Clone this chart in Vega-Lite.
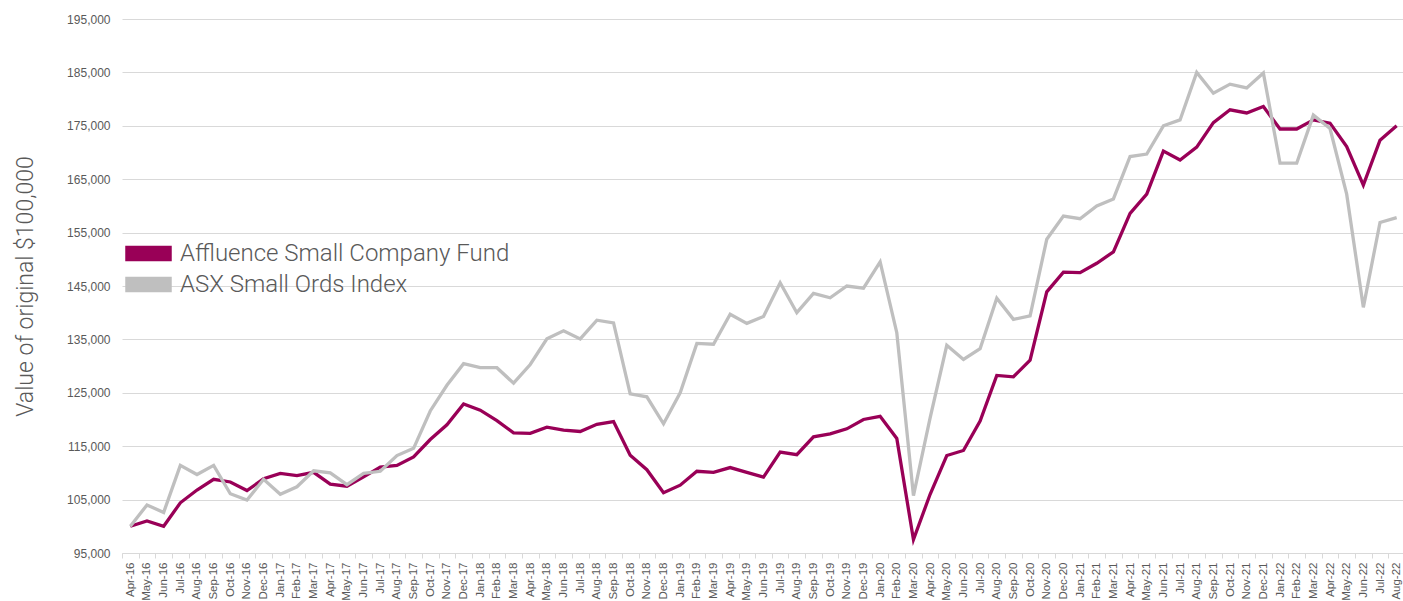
{
  "$schema": "https://vega.github.io/schema/vega-lite/v6.json",
  "width": 1283,
  "height": 534,
  "autosize": {"type": "none"},
  "padding": {"left": 122, "top": 19, "right": 0, "bottom": 48},
  "background": "white",
  "data": {
    "values": [
      {"month": "Apr-16", "Affluence Small Company Fund": 100000, "ASX Small Ords Index": 100000},
      {"month": "May-16", "Affluence Small Company Fund": 101000, "ASX Small Ords Index": 104000},
      {"month": "Jun-16", "Affluence Small Company Fund": 100000, "ASX Small Ords Index": 102600},
      {"month": "Jul-16", "Affluence Small Company Fund": 104400, "ASX Small Ords Index": 111400},
      {"month": "Aug-16", "Affluence Small Company Fund": 106800, "ASX Small Ords Index": 109700},
      {"month": "Sep-16", "Affluence Small Company Fund": 108800, "ASX Small Ords Index": 111400},
      {"month": "Oct-16", "Affluence Small Company Fund": 108300, "ASX Small Ords Index": 106100},
      {"month": "Nov-16", "Affluence Small Company Fund": 106700, "ASX Small Ords Index": 104900},
      {"month": "Dec-16", "Affluence Small Company Fund": 108900, "ASX Small Ords Index": 108800},
      {"month": "Jan-17", "Affluence Small Company Fund": 109900, "ASX Small Ords Index": 106000},
      {"month": "Feb-17", "Affluence Small Company Fund": 109500, "ASX Small Ords Index": 107400},
      {"month": "Mar-17", "Affluence Small Company Fund": 110100, "ASX Small Ords Index": 110400},
      {"month": "Apr-17", "Affluence Small Company Fund": 107900, "ASX Small Ords Index": 110000},
      {"month": "May-17", "Affluence Small Company Fund": 107500, "ASX Small Ords Index": 107800},
      {"month": "Jun-17", "Affluence Small Company Fund": 109250, "ASX Small Ords Index": 109900},
      {"month": "Jul-17", "Affluence Small Company Fund": 111100, "ASX Small Ords Index": 110300},
      {"month": "Aug-17", "Affluence Small Company Fund": 111400, "ASX Small Ords Index": 113250},
      {"month": "Sep-17", "Affluence Small Company Fund": 113000, "ASX Small Ords Index": 114600},
      {"month": "Oct-17", "Affluence Small Company Fund": 116250, "ASX Small Ords Index": 121600},
      {"month": "Nov-17", "Affluence Small Company Fund": 119000, "ASX Small Ords Index": 126400},
      {"month": "Dec-17", "Affluence Small Company Fund": 122900, "ASX Small Ords Index": 130450},
      {"month": "Jan-18", "Affluence Small Company Fund": 121750, "ASX Small Ords Index": 129700},
      {"month": "Feb-18", "Affluence Small Company Fund": 119800, "ASX Small Ords Index": 129700},
      {"month": "Mar-18", "Affluence Small Company Fund": 117500, "ASX Small Ords Index": 126800},
      {"month": "Apr-18", "Affluence Small Company Fund": 117400, "ASX Small Ords Index": 130300},
      {"month": "May-18", "Affluence Small Company Fund": 118550, "ASX Small Ords Index": 135100},
      {"month": "Jun-18", "Affluence Small Company Fund": 118000, "ASX Small Ords Index": 136600},
      {"month": "Jul-18", "Affluence Small Company Fund": 117750, "ASX Small Ords Index": 135100},
      {"month": "Aug-18", "Affluence Small Company Fund": 119100, "ASX Small Ords Index": 138600},
      {"month": "Sep-18", "Affluence Small Company Fund": 119600, "ASX Small Ords Index": 138100},
      {"month": "Oct-18", "Affluence Small Company Fund": 113300, "ASX Small Ords Index": 124800},
      {"month": "Nov-18", "Affluence Small Company Fund": 110600, "ASX Small Ords Index": 124250},
      {"month": "Dec-18", "Affluence Small Company Fund": 106300, "ASX Small Ords Index": 119200},
      {"month": "Jan-19", "Affluence Small Company Fund": 107700, "ASX Small Ords Index": 125000},
      {"month": "Feb-19", "Affluence Small Company Fund": 110300, "ASX Small Ords Index": 134250},
      {"month": "Mar-19", "Affluence Small Company Fund": 110100, "ASX Small Ords Index": 134100},
      {"month": "Apr-19", "Affluence Small Company Fund": 111000, "ASX Small Ords Index": 139700},
      {"month": "May-19", "Affluence Small Company Fund": 110100, "ASX Small Ords Index": 138000},
      {"month": "Jun-19", "Affluence Small Company Fund": 109200, "ASX Small Ords Index": 139300},
      {"month": "Jul-19", "Affluence Small Company Fund": 113900, "ASX Small Ords Index": 145600},
      {"month": "Aug-19", "Affluence Small Company Fund": 113400, "ASX Small Ords Index": 140000},
      {"month": "Sep-19", "Affluence Small Company Fund": 116750, "ASX Small Ords Index": 143600},
      {"month": "Oct-19", "Affluence Small Company Fund": 117300, "ASX Small Ords Index": 142800},
      {"month": "Nov-19", "Affluence Small Company Fund": 118250, "ASX Small Ords Index": 145000},
      {"month": "Dec-19", "Affluence Small Company Fund": 120000, "ASX Small Ords Index": 144600},
      {"month": "Jan-20", "Affluence Small Company Fund": 120600, "ASX Small Ords Index": 149500},
      {"month": "Feb-20", "Affluence Small Company Fund": 116450, "ASX Small Ords Index": 136250},
      {"month": "Mar-20", "Affluence Small Company Fund": 97500, "ASX Small Ords Index": 105750},
      {"month": "Apr-20", "Affluence Small Company Fund": 106000, "ASX Small Ords Index": 120300},
      {"month": "May-20", "Affluence Small Company Fund": 113250, "ASX Small Ords Index": 133900},
      {"month": "Jun-20", "Affluence Small Company Fund": 114200, "ASX Small Ords Index": 131250},
      {"month": "Jul-20", "Affluence Small Company Fund": 119700, "ASX Small Ords Index": 133250},
      {"month": "Aug-20", "Affluence Small Company Fund": 128250, "ASX Small Ords Index": 142700},
      {"month": "Sep-20", "Affluence Small Company Fund": 128000, "ASX Small Ords Index": 138750},
      {"month": "Oct-20", "Affluence Small Company Fund": 131100, "ASX Small Ords Index": 139400},
      {"month": "Nov-20", "Affluence Small Company Fund": 143900, "ASX Small Ords Index": 153750},
      {"month": "Dec-20", "Affluence Small Company Fund": 147600, "ASX Small Ords Index": 158100},
      {"month": "Jan-21", "Affluence Small Company Fund": 147500, "ASX Small Ords Index": 157600},
      {"month": "Feb-21", "Affluence Small Company Fund": 149250, "ASX Small Ords Index": 160000},
      {"month": "Mar-21", "Affluence Small Company Fund": 151400, "ASX Small Ords Index": 161300},
      {"month": "Apr-21", "Affluence Small Company Fund": 158600, "ASX Small Ords Index": 169250},
      {"month": "May-21", "Affluence Small Company Fund": 162200, "ASX Small Ords Index": 169700},
      {"month": "Jun-21", "Affluence Small Company Fund": 170250, "ASX Small Ords Index": 175000},
      {"month": "Jul-21", "Affluence Small Company Fund": 168600, "ASX Small Ords Index": 176100},
      {"month": "Aug-21", "Affluence Small Company Fund": 171000, "ASX Small Ords Index": 185000},
      {"month": "Sep-21", "Affluence Small Company Fund": 175600, "ASX Small Ords Index": 181100},
      {"month": "Oct-21", "Affluence Small Company Fund": 178000, "ASX Small Ords Index": 182800},
      {"month": "Nov-21", "Affluence Small Company Fund": 177400, "ASX Small Ords Index": 182100},
      {"month": "Dec-21", "Affluence Small Company Fund": 178600, "ASX Small Ords Index": 184900},
      {"month": "Jan-22", "Affluence Small Company Fund": 174400, "ASX Small Ords Index": 168000},
      {"month": "Feb-22", "Affluence Small Company Fund": 174400, "ASX Small Ords Index": 168000},
      {"month": "Mar-22", "Affluence Small Company Fund": 176100, "ASX Small Ords Index": 177000},
      {"month": "Apr-22", "Affluence Small Company Fund": 175500, "ASX Small Ords Index": 174500},
      {"month": "May-22", "Affluence Small Company Fund": 171100, "ASX Small Ords Index": 162200},
      {"month": "Jun-22", "Affluence Small Company Fund": 163900, "ASX Small Ords Index": 141000},
      {"month": "Jul-22", "Affluence Small Company Fund": 172300, "ASX Small Ords Index": 156900},
      {"month": "Aug-22", "Affluence Small Company Fund": 175000, "ASX Small Ords Index": 157800}
    ]
  },
  "transform": [
    {"fold": ["Affluence Small Company Fund", "ASX Small Ords Index"], "as": ["series", "value"]}
  ],
  "mark": {"type": "line", "strokeWidth": 3.3, "strokeJoin": "miter", "interpolate": "linear"},
  "encoding": {
    "x": {
      "field": "month",
      "type": "ordinal",
      "sort": null,
      "bandPosition": 0.5,
      "scale": {"type": "band", "paddingInner": 0, "paddingOuter": 0},
      "axis": {
        "title": null,
        "labelAngle": -90,
        "labelFont": "Liberation Sans",
        "labelFontSize": 11.5,
        "labelColor": "#595959",
        "labelPadding": 4,
        "tickBand": "extent",
        "tickSize": 5,
        "tickColor": "#d9d9d9",
        "domainColor": "#d9d9d9",
        "domainWidth": 1,
        "grid": false,
        "labelOverlap": false
      }
    },
    "y": {
      "field": "value",
      "type": "quantitative",
      "scale": {"domain": [95000, 195000], "nice": false, "zero": false},
      "axis": {
        "title": "Value of original $100,000",
        "titleFont": "Roboto",
        "titleFontWeight": 300,
        "titleFontSize": 23,
        "titleColor": "#595959",
        "titlePadding": 29,
        "values": [95000, 105000, 115000, 125000, 135000, 145000, 155000, 165000, 175000, 185000, 195000],
        "format": ",d",
        "labelFont": "Liberation Sans",
        "labelFontSize": 12,
        "labelColor": "#595959",
        "labelPadding": 12,
        "ticks": false,
        "domain": false,
        "grid": true,
        "gridColor": "#d9d9d9",
        "gridWidth": 1
      }
    },
    "color": {
      "field": "series",
      "type": "nominal",
      "scale": {
        "domain": ["Affluence Small Company Fund", "ASX Small Ords Index"],
        "range": ["#990057", "#BFBFBF"]
      },
      "legend": {
        "title": null,
        "orient": "none",
        "legendX": 11,
        "legendY": 219,
        "padding": 0,
        "rowPadding": 3,
        "symbolType": "M-1.5,-0.5H1.5V0.5H-1.5Z",
        "symbolSize": 961,
        "symbolStrokeWidth": 0,
        "labelOffset": 16,
        "labelFont": "Roboto",
        "labelFontWeight": 300,
        "labelFontSize": 24,
        "labelColor": "#595959",
        "labelLimit": 0,
        "encode": {
          "symbols": {
            "update": {
              "fill": {"scale": "color", "field": "value"},
              "fillOpacity": {"value": 1},
              "strokeWidth": {"value": 0}
            }
          }
        }
      }
    },
    "order": {"field": "series", "sort": "descending"}
  },
  "config": {"view": {"stroke": null}}
}
